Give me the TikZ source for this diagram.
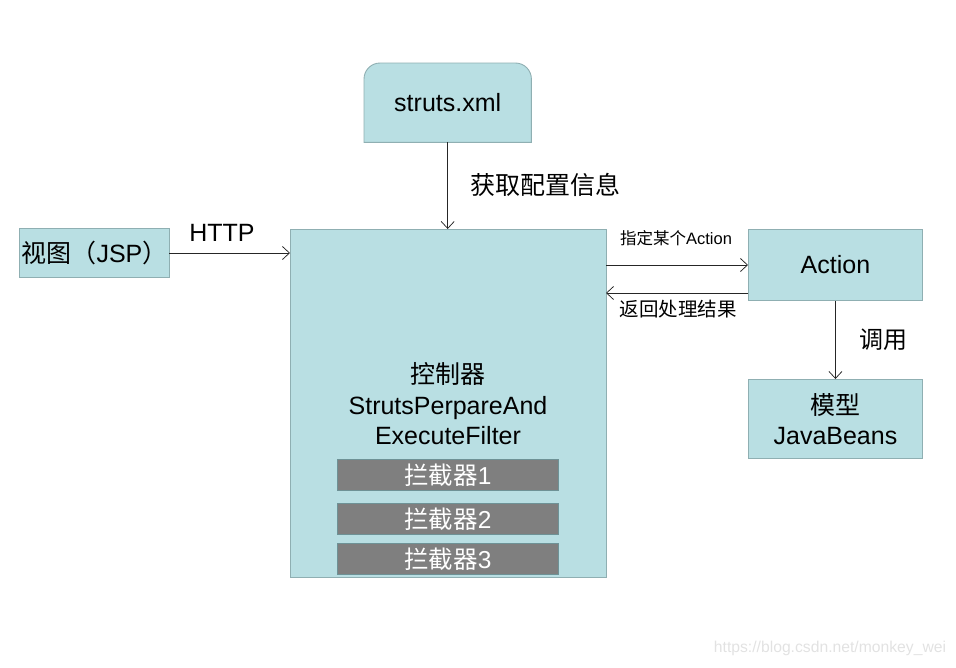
\documentclass[tikz,border=0pt]{standalone}
\usepackage{fontspec}
\setmainfont{Liberation Sans}
\newfontfamily\cjk{Noto Sans CJK SC}
\usetikzlibrary{arrows.meta,backgrounds}
\definecolor{boxfill}{HTML}{B9DFE3}
\definecolor{boxline}{HTML}{8FAFB2}
\definecolor{icfill}{HTML}{7F7F7F}
\definecolor{icline}{HTML}{6E9296}
\definecolor{wm}{HTML}{E2E2E2}
\tikzset{
  tealbox/.style={draw=boxline, fill=boxfill, line width=0.9pt, anchor=north west, inner sep=0pt, align=center},
  icbox/.style={draw=icline, fill=icfill, line width=0.9pt, anchor=north west, inner sep=0pt, minimum width=221pt, minimum height=31pt},
  ictext/.style={text=white, font=\fontsize{24.5}{28}\selectfont, inner sep=0pt},
  conn/.style={draw=black!85, line width=0.75pt, -{Straight Barb[length=7pt,width=13pt,line width=0.75pt]}},
  big/.style={inner sep=0pt, font=\fontsize{25}{30}\selectfont}
}
\begin{document}
\begin{tikzpicture}[x=1pt,y=-1pt]
\useasboundingbox (0,0) rectangle (956,667);
% struts.xml (rounded top corners)
\node[anchor=north west, minimum width=167pt, minimum height=79pt, inner sep=0pt, font=\fontsize{25}{30}\selectfont] (xml) at (364,63) {struts.xml};
\begin{scope}[on background layer]
\draw[draw=boxline, fill=boxfill, line width=0.9pt] (xml.south west) [rounded corners=16pt] -- (xml.north west) -- (xml.north east) [sharp corners] -- (xml.south east) -- cycle;
\end{scope}
% controller
\node[tealbox, minimum width=316pt, minimum height=348pt] (ctl) at (290,229) {};
\node[inner sep=0pt, align=center, font=\fontsize{25}{30.5}\selectfont] (ctltxt) at (448,404) {{\cjk 控制器}\\StrutsPerpareAnd\\ExecuteFilter};
\node[icbox] (ic1) at (337,459) {};
\node[ictext] (ic1t) at (ic1.center) {{\cjk 拦截器}1};
\node[icbox] (ic2) at (337,503) {};
\node[ictext] (ic2t) at (ic2.center) {{\cjk 拦截器}2};
\node[icbox] (ic3) at (337,543) {};
\node[ictext] (ic3t) at (ic3.center) {{\cjk 拦截器}3};
% view
\node[tealbox, minimum width=150pt, minimum height=49pt] (view) at (19,228) {};
\node[big] (viewt) at (view.center) {{\cjk 视图（}JSP{\cjk ）}};
% action
\node[tealbox, minimum width=174pt, minimum height=71pt] (act) at (748,229) {};
\node[big] (actt) at (act.center) {Action};
% model
\node[tealbox, minimum width=174pt, minimum height=79pt] (mdl) at (748,379) {};
\node[big, align=center] (mdlt) at (mdl.center) {{\cjk 模型}\\JavaBeans};
% connectors
\coordinate (v1) at (169,253);
\coordinate (c1) at (290,253);
\draw[conn] (v1) -- (c1);
\node[big] (http) at (222,233) {HTTP};
\draw[conn] (xml.south) -- (xml.south |- ctl.north);
\node[big, anchor=west, font=\fontsize{25}{30}\selectfont\cjk] (cfg) at (470,185) {获取配置信息};
\coordinate (a1) at (606,265);
\coordinate (a2) at (748,265);
\draw[conn] (a1) -- (a2);
\node[inner sep=0pt, font=\fontsize{16.5}{20}\selectfont] (spec) at (676,238) {{\cjk 指定某个}Action};
\coordinate (r1) at (748,293);
\coordinate (r2) at (606,293);
\draw[conn] (r1) -- (r2);
\node[inner sep=0pt, font=\fontsize{19.5}{22}\selectfont\cjk] (ret) at (678,309) {返回处理结果};
\draw[conn] (act.south) -- (mdl.north);
\node[inner sep=0pt, font=\fontsize{24}{28}\selectfont\cjk] (call) at (883,340) {调用};
% watermark
\node[inner sep=0pt, text=wm, font=\fontsize{15.7}{18}\selectfont] (wmk) at (830,648) {https://blog.csdn.net/monkey\_wei};
\end{tikzpicture}
\end{document}
